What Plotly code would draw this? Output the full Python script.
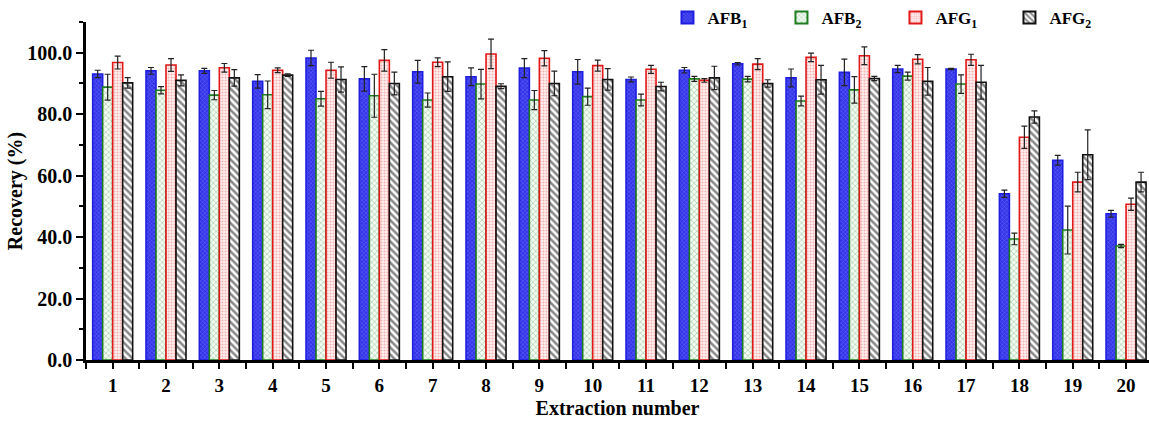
import plotly.graph_objects as go

# Extraction cycles and mean recoveries (%) with standard deviations
extraction = list(range(1, 21))
tick_labels = [str(n) for n in extraction]

afb1 = [93.1, 94.1, 94.1, 90.7, 98.3, 91.5, 93.8, 92.2, 95.0, 93.8,
        91.3, 94.3, 96.4, 91.8, 93.6, 94.7, 94.7, 54.1, 65.0, 47.6]
afb1_sd = [1.2, 1.1, 0.8, 2.2, 2.5, 4.0, 3.7, 2.9, 3.1, 4.0,
           0.8, 0.9, 0.4, 2.9, 4.3, 1.2, 0.2, 1.2, 1.6, 1.1]

afb2 = [88.8, 87.8, 86.2, 86.3, 85.0, 86.0, 84.6, 89.8, 84.6, 85.7,
        84.6, 91.5, 91.4, 84.3, 87.9, 92.4, 89.8, 39.4, 42.3, 37.1]
afb2_sd = [4.2, 1.2, 1.5, 4.5, 2.4, 7.0, 2.3, 4.8, 3.1, 2.8,
           1.9, 0.8, 0.9, 1.6, 4.3, 1.3, 3.0, 1.9, 7.8, 0.5]

afg1 = [96.8, 96.0, 95.1, 94.3, 94.3, 97.5, 96.9, 99.6, 98.2, 95.8,
        94.6, 91.0, 96.3, 98.5, 99.0, 97.9, 97.7, 72.5, 57.9, 50.7]
afg1_sd = [2.1, 2.1, 1.4, 0.8, 2.6, 3.5, 1.4, 4.8, 2.5, 1.8,
           1.3, 0.6, 1.8, 1.4, 2.9, 1.5, 1.8, 3.6, 3.2, 2.0]

afg2 = [90.2, 91.0, 91.8, 92.7, 91.3, 90.0, 92.2, 89.1, 90.0, 91.3,
        89.0, 91.8, 90.0, 91.2, 91.6, 90.7, 90.4, 79.1, 66.8, 57.9]
afg2_sd = [1.7, 1.8, 2.7, 0.4, 4.1, 3.7, 4.8, 0.8, 4.0, 3.5,
           1.4, 3.8, 1.2, 4.7, 0.7, 4.5, 5.5, 2.0, 8.1, 3.2]

series_names = ["AFB<sub>1</sub>", "AFB<sub>2</sub>", "AFG<sub>1</sub>", "AFG<sub>2</sub>"]

FONT = "Liberation Serif"

styles = [
    dict(line="#1f1fe0", pattern=dict(shape="x", fgcolor="#b4b4ff", bgcolor="#3434ea",
                                      size=3, solidity=0.25, fillmode="overlay")),
    dict(line="#1e7d1e", pattern=dict(shape="x", fgcolor="#4f9f4f", bgcolor="#f4fbf4",
                                      size=4, solidity=0.3, fillmode="overlay")),
    dict(line="#e01818", pattern=dict(shape=".", fgcolor="#ee7070", bgcolor="#fff2f2",
                                      size=3, solidity=0.4, fillmode="overlay")),
    dict(line="#111111", pattern=dict(shape="\\", fgcolor="#111111", bgcolor="#ffffff",
                                      size=5, solidity=0.5, fillmode="overlay")),
]

data = [(afb1, afb1_sd), (afb2, afb2_sd), (afg1, afg1_sd), (afg2, afg2_sd)]

fig = go.Figure()
for name, (vals, sd), st in zip(series_names, data, styles):
    fig.add_trace(go.Bar(
        x=extraction,
        y=vals,
        name=name,
        marker=dict(color=st["pattern"]["bgcolor"],
                    line=dict(color=st["line"], width=1.6),
                    pattern=st["pattern"]),
        error_y=dict(type="data", array=sd, visible=True,
                     color="#222222", thickness=1.2, width=3),
    ))

fig.update_layout(
    width=1149,
    height=421,
    margin=dict(l=86, r=0, t=22, b=61, autoexpand=False),
    paper_bgcolor="white",
    plot_bgcolor="white",
    barmode="group",
    bargap=0.25,
    bargroupgap=0,
    font=dict(family=FONT, color="black", size=18, weight="bold"),
    showlegend=True,
    legend=dict(
        orientation="h",
        x=0.547, xanchor="left",
        y=1.012, yanchor="middle",
        entrywidth=69, entrywidthmode="pixels",
        font=dict(family=FONT, size=17, color="black", weight="bold"),
        bgcolor="rgba(0,0,0,0)",
        itemsizing="constant",
    ),
)

fig.update_xaxes(
    range=[0.5, 20.43],
    tickmode="array",
    tickvals=extraction,
    ticktext=tick_labels,
    ticks="outside",
    ticklen=6,
    tickwidth=2,
    tickcolor="black",
    minor=dict(tickmode="linear", tick0=0.5, dtick=1, ticks="outside",
               ticklen=6, tickwidth=2, tickcolor="black"),
    showline=True,
    linecolor="black",
    linewidth=2.5,
    showgrid=False,
    zeroline=False,
    tickfont=dict(family=FONT, size=19, color="black", weight="bold"),
    title=dict(text="Extraction number", standoff=7,
               font=dict(family=FONT, size=20, color="black", weight="bold")),
)

fig.update_yaxes(
    range=[0, 110],
    tickmode="linear",
    tick0=0,
    dtick=20,
    tickformat=".1f",
    ticks="outside",
    ticklen=7,
    tickwidth=2,
    tickcolor="black",
    minor=dict(tickmode="linear", tick0=0, dtick=10, ticks="outside",
               ticklen=4, tickwidth=2, tickcolor="black"),
    showline=True,
    linecolor="black",
    linewidth=2.5,
    showgrid=False,
    zeroline=False,
    tickfont=dict(family=FONT, size=20, color="black", weight="bold"),
    title=dict(text="Recovery (%)", standoff=0,
               font=dict(family=FONT, size=20, color="black", weight="bold")),
)

fig.write_html("out.html")
